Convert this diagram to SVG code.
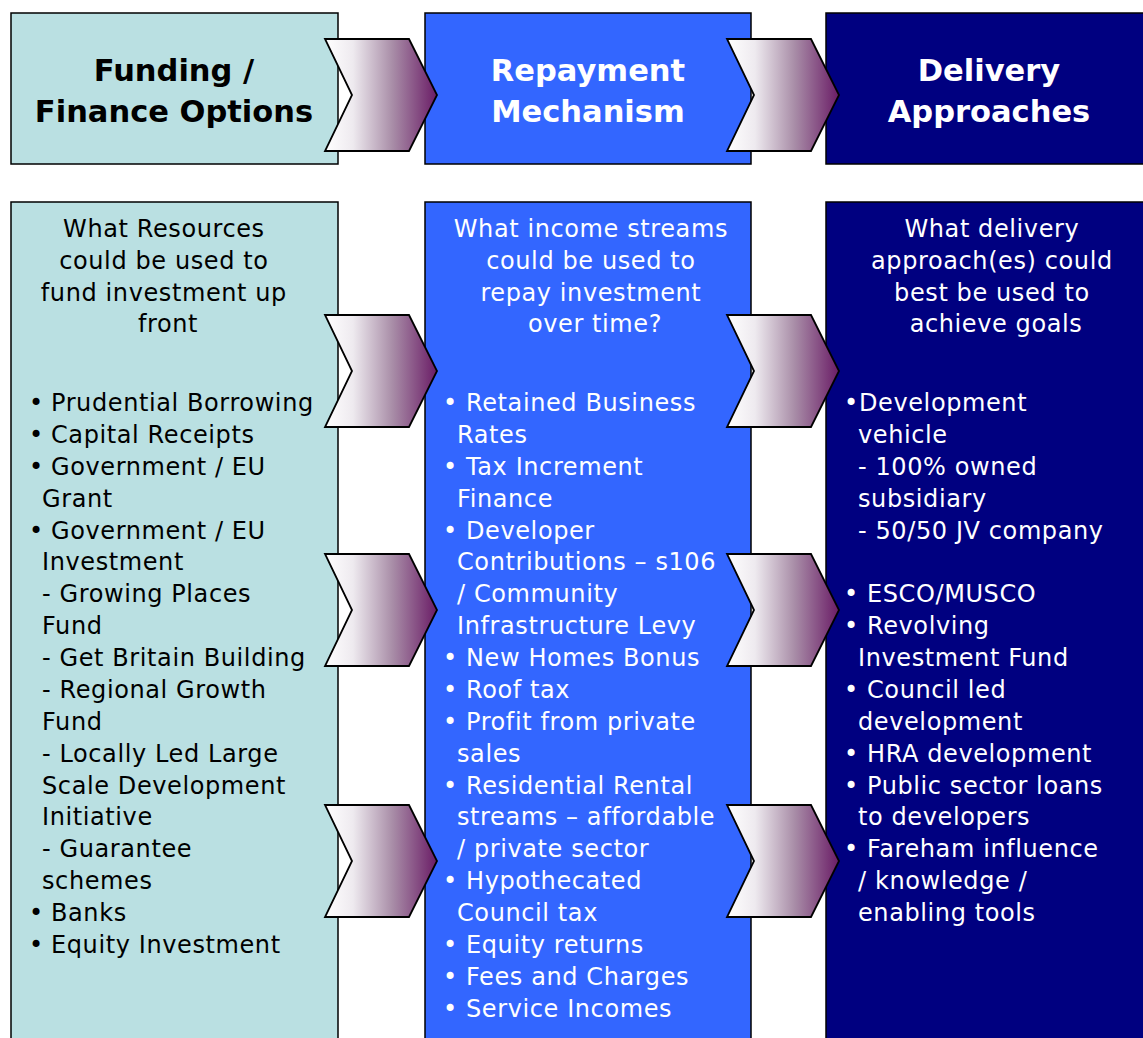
<svg xmlns="http://www.w3.org/2000/svg" width="1143" height="1038" viewBox="0 0 1143 1038">
  <defs>
    <linearGradient id="chevFill" x1="0" y1="0" x2="1" y2="0">
      <stop offset="0" stop-color="#ffffff"/>
      <stop offset="0.25" stop-color="#eeeaef"/>
      <stop offset="0.6" stop-color="#a98ea8"/>
      <stop offset="1" stop-color="#6a1c66"/>
    </linearGradient>
    <polygon id="chev" points="0,0 84,0 112,56 84,112 0,112 27,56"/>
  </defs>
  <style>
    .box { stroke: #000; stroke-width: 1.5; }
    .c1 { fill: #bae0e2; }
    .c2 { fill: #3366ff; }
    .c3 { fill: #000080; }
    .chev { fill: url(#chevFill); stroke: #000; stroke-width: 1.8; stroke-linejoin: miter; }
    .head { font-family: "DejaVu Sans", sans-serif; font-weight: bold; font-size: 30.5px; text-anchor: middle; }
    .body { font-family: "DejaVu Sans", sans-serif; font-size: 24px; letter-spacing: 0.6px; }
    .sub { text-anchor: middle; }
    .dark { fill: #000; }
    .light { fill: #fff; }
  </style>
  <rect width="1143" height="1038" fill="#fff"/>

  <!-- header row -->
  <g id="head-funding">
    <rect class="box c1" x="11" y="13" width="327" height="151"/>
    <text class="head dark"><tspan x="174" y="81">Funding /</tspan><tspan x="174" y="122">Finance Options</tspan></text>
  </g>
  <g id="head-repayment">
    <rect class="box c2" x="425" y="13" width="326" height="151"/>
    <text class="head light"><tspan x="588" y="81">Repayment</tspan><tspan x="588" y="122">Mechanism</tspan></text>
  </g>
  <g id="head-delivery">
    <rect class="box c3" x="826" y="13" width="330" height="151"/>
    <text class="head light"><tspan x="989" y="81">Delivery</tspan><tspan x="989" y="122">Approaches</tspan></text>
  </g>

  <!-- detail columns -->
  <g id="col-funding">
    <rect class="box c1" x="11" y="202" width="327" height="850"/>
    <text class="body dark sub">
      <tspan x="168" y="237">What Resources</tspan>
      <tspan x="168" y="268.7">could be used to</tspan>
      <tspan x="168" y="300.5">fund investment up</tspan>
      <tspan x="168" y="332">front</tspan>
    </text>
    <text class="body dark">
      <tspan x="29" y="411">•</tspan><tspan x="51" y="411">Prudential Borrowing</tspan>
      <tspan x="29" y="442.9">•</tspan><tspan x="51" y="442.9">Capital Receipts</tspan>
      <tspan x="29" y="474.8">•</tspan><tspan x="51" y="474.8">Government / EU</tspan>
      <tspan x="42" y="506.6">Grant</tspan>
      <tspan x="29" y="538.5">•</tspan><tspan x="51" y="538.5">Government / EU</tspan>
      <tspan x="42" y="570.4">Investment</tspan>
      <tspan x="42" y="602.3">- Growing Places</tspan>
      <tspan x="42" y="634.2">Fund</tspan>
      <tspan x="42" y="666">- Get Britain Building</tspan>
      <tspan x="42" y="697.9">- Regional Growth</tspan>
      <tspan x="42" y="729.8">Fund</tspan>
      <tspan x="42" y="761.7">- Locally Led Large</tspan>
      <tspan x="42" y="793.6">Scale Development</tspan>
      <tspan x="42" y="825.4">Initiative</tspan>
      <tspan x="42" y="857.3">- Guarantee</tspan>
      <tspan x="42" y="889.2">schemes</tspan>
      <tspan x="29" y="921.1">•</tspan><tspan x="51" y="921.1">Banks</tspan>
      <tspan x="29" y="953">•</tspan><tspan x="51" y="953">Equity Investment</tspan>
    </text>
  </g>

  <g id="col-repayment">
    <rect class="box c2" x="425" y="202" width="326" height="850"/>
    <text class="body light sub">
      <tspan x="595" y="237">What income streams</tspan>
      <tspan x="595" y="268.7">could be used to</tspan>
      <tspan x="595" y="300.5">repay investment</tspan>
      <tspan x="595" y="332">over time?</tspan>
    </text>
    <text class="body light">
      <tspan x="443" y="411">•</tspan><tspan x="466" y="411">Retained Business</tspan>
      <tspan x="457" y="442.9">Rates</tspan>
      <tspan x="443" y="474.8">•</tspan><tspan x="466" y="474.8">Tax Increment</tspan>
      <tspan x="457" y="506.6">Finance</tspan>
      <tspan x="443" y="538.5">•</tspan><tspan x="466" y="538.5">Developer</tspan>
      <tspan x="457" y="570.4">Contributions – s106</tspan>
      <tspan x="457" y="602.3">/ Community</tspan>
      <tspan x="457" y="634.2">Infrastructure Levy</tspan>
      <tspan x="443" y="666">•</tspan><tspan x="466" y="666">New Homes Bonus</tspan>
      <tspan x="443" y="697.9">•</tspan><tspan x="466" y="697.9">Roof tax</tspan>
      <tspan x="443" y="729.8">•</tspan><tspan x="466" y="729.8">Profit from private</tspan>
      <tspan x="457" y="761.7">sales</tspan>
      <tspan x="443" y="793.6">•</tspan><tspan x="466" y="793.6">Residential Rental</tspan>
      <tspan x="457" y="825.4">streams – affordable</tspan>
      <tspan x="457" y="857.3">/ private sector</tspan>
      <tspan x="443" y="889.2">•</tspan><tspan x="466" y="889.2">Hypothecated</tspan>
      <tspan x="457" y="921.1">Council tax</tspan>
      <tspan x="443" y="953">•</tspan><tspan x="466" y="953">Equity returns</tspan>
      <tspan x="443" y="984.8">•</tspan><tspan x="466" y="984.8">Fees and Charges</tspan>
      <tspan x="443" y="1016.7">•</tspan><tspan x="466" y="1016.7">Service Incomes</tspan>
    </text>
  </g>

  <g id="col-delivery">
    <rect class="box c3" x="826" y="202" width="330" height="850"/>
    <text class="body light sub">
      <tspan x="996" y="237">What delivery</tspan>
      <tspan x="996" y="268.7">approach(es) could</tspan>
      <tspan x="996" y="300.5">best be used to</tspan>
      <tspan x="996" y="332">achieve goals</tspan>
    </text>
    <text class="body light">
      <tspan x="844" y="411">•</tspan><tspan x="859" y="411">Development</tspan>
      <tspan x="858" y="442.9">vehicle</tspan>
      <tspan x="858" y="474.8">- 100% owned</tspan>
      <tspan x="858" y="506.6">subsidiary</tspan>
      <tspan x="858" y="538.5">- 50/50 JV company</tspan>
      <tspan x="844" y="602.3">•</tspan><tspan x="867" y="602.3">ESCO/MUSCO</tspan>
      <tspan x="844" y="634.2">•</tspan><tspan x="867" y="634.2">Revolving</tspan>
      <tspan x="858" y="666">Investment Fund</tspan>
      <tspan x="844" y="697.9">•</tspan><tspan x="867" y="697.9">Council led</tspan>
      <tspan x="858" y="729.8">development</tspan>
      <tspan x="844" y="761.7">•</tspan><tspan x="867" y="761.7">HRA development</tspan>
      <tspan x="844" y="793.6">•</tspan><tspan x="867" y="793.6">Public sector loans</tspan>
      <tspan x="858" y="825.4">to developers</tspan>
      <tspan x="844" y="857.3">•</tspan><tspan x="867" y="857.3">Fareham influence</tspan>
      <tspan x="858" y="889.2">/ knowledge /</tspan>
      <tspan x="858" y="921.1">enabling tools</tspan>
    </text>
  </g>

  <!-- chevron connectors between columns -->
  <g id="connectors">
    <use href="#chev" class="chev" x="325" y="39"/>
    <use href="#chev" class="chev" x="727" y="39"/>
    <use href="#chev" class="chev" x="325" y="315"/>
    <use href="#chev" class="chev" x="727" y="315"/>
    <use href="#chev" class="chev" x="325" y="554"/>
    <use href="#chev" class="chev" x="727" y="554"/>
    <use href="#chev" class="chev" x="325" y="805"/>
    <use href="#chev" class="chev" x="727" y="805"/>
  </g>
</svg>
